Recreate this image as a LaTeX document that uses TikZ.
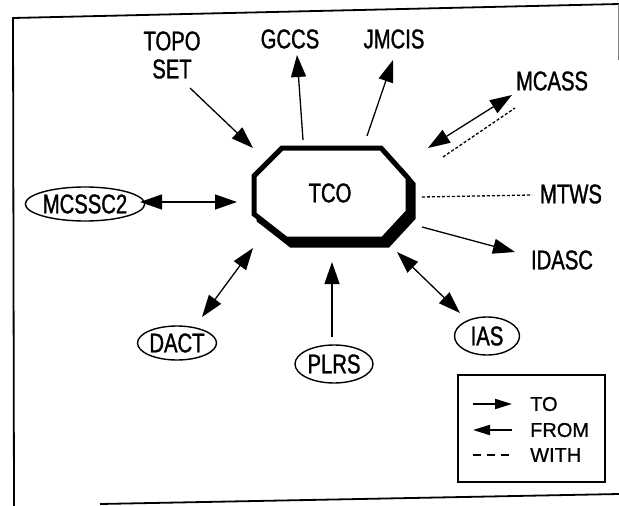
\documentclass[tikz,border=0pt]{standalone}
\usepackage{fontspec}
\setmainfont[FakeStretch=0.75,FakeBold=1.2]{Liberation Sans}
\newfontfamily\legendfont[FakeBold=0.8]{Liberation Sans}
\usetikzlibrary{arrows.meta,shapes.geometric}

\tikzset{
  sys/.style={font=\fontsize{27}{28}\selectfont, inner sep=1pt, align=center},
  oval/.style={sys, draw, ellipse, line width=1.4pt, inner sep=0pt},
  link/.style={line width=1.3pt, -{Triangle[length=22pt,width=15pt]}},
  twoway/.style={line width=1.3pt,
    {Triangle[length=22pt,width=15pt]}-{Triangle[length=22pt,width=15pt]}},
  with/.style={line width=1.3pt, dash pattern=on 3pt off 2pt},
  legtext/.style={font=\legendfont\fontsize{20}{21}\selectfont, anchor=west, inner sep=0pt},
  legarrow/.style={line width=2pt, -{Triangle[length=17pt,width=10pt]}},
}

\begin{document}
\begin{tikzpicture}[x=1pt,y=-1pt]
  \useasboundingbox (0,0) rectangle (619,506);

  %% frame
  \draw[line width=1.8pt] (100,504) -- (619,494);
  \draw[line width=1.8pt] (14,506) -- (13,18) -- (619,4);
  \draw[line width=0.6pt, gray] (618,4) -- (618,60);

  %% TCO box with its shadow
  \filldraw[line width=5pt, shift={(5,6)}]
  (282,148) -- (381,148) -- (408,178) -- (408,212) --
  (383,239) -- (286,239) -- (254,214) -- (254,176) -- cycle;
  \filldraw[fill=white, line width=5pt]
  (282,148) -- (381,148) -- (408,178) -- (408,212) --
  (383,239) -- (286,239) -- (254,214) -- (254,176) -- cycle;
  \node[sys] (tco) at (330,193) {TCO};

  %% systems
  \node[sys] (topo) at (172,55) {TOPO\\SET};
  \node[sys] (gccs) at (290,39) {GCCS};
  \node[sys] (jmcis) at (394,39) {JMCIS};
  \node[sys] (mcass) at (552,81) {MCASS};
  \node[sys] (mtws) at (571,194) {MTWS};
  \node[sys] (idasc) at (562,260) {IDASC};
  \node[oval, minimum width=65pt, minimum height=38pt] (ias) at (487,336) {IAS};
  \node[oval, minimum width=78pt, minimum height=38pt] (plrs) at (334,364) {PLRS};
  \node[oval, minimum width=79pt, minimum height=34pt] (dact) at (177,343) {DACT};
  \node[oval, minimum width=106pt, minimum height=34pt] (mcssc2) at (85,204) {MCSSC2};

  %% links
  \draw[link] ([shift={(18,33)}]topo.center) -- ([shift={(-77,-45)}]tco.center);
  \draw[link] ([shift={(-27,-53)}]tco.center) -- ([shift={(7,16)}]gccs.center);
  \draw[link] ([shift={(37,-57)}]tco.center) -- ([shift={(-1,21)}]jmcis.center);
  \draw[twoway] ([shift={(98,-45)}]tco.center) -- ([shift={(-40,14)}]mcass.center);
  \draw[with] ([shift={(113,-36)}]tco.center) -- ([shift={(-37,27)}]mcass.center);
  \draw[with] ([shift={(92,4)}]tco.center) -- ([shift={(-39,1)}]mtws.center);
  \draw[link] ([shift={(92,34)}]tco.center) -- ([shift={(-47,-8)}]idasc.center);
  \draw[twoway] ([shift={(67,59)}]tco.center) -- ([shift={(-27,-23)}]ias.center);
  \draw[link] ([shift={(-2,-27)}]plrs.center) -- ([shift={(2,69)}]tco.center);
  \draw[twoway] ([shift={(25,-26)}]dact.center) -- ([shift={(-77,55)}]tco.center);
  \draw[twoway] ([shift={(55,-2)}]mcssc2.center) -- ([shift={(-93,9)}]tco.center);

  %% legend
  \draw[line width=1.5pt] (458,375) rectangle (605,482);
  \node[legtext] (lto) at (530,404) {TO};
  \node[legtext] (lfrom) at (530,430) {FROM};
  \node[legtext] (lwith) at (530,455) {WITH};
  \draw[legarrow] ([xshift=-57pt]lto.west) -- ([xshift=-18pt]lto.west);
  \draw[legarrow] ([xshift=-18pt]lfrom.west) -- ([xshift=-57pt]lfrom.west);
  \draw[line width=2pt, dash pattern=on 8pt off 6pt]
  ([xshift=-57pt]lwith.west) -- ([xshift=-18pt]lwith.west);

\end{tikzpicture}
\end{document}
